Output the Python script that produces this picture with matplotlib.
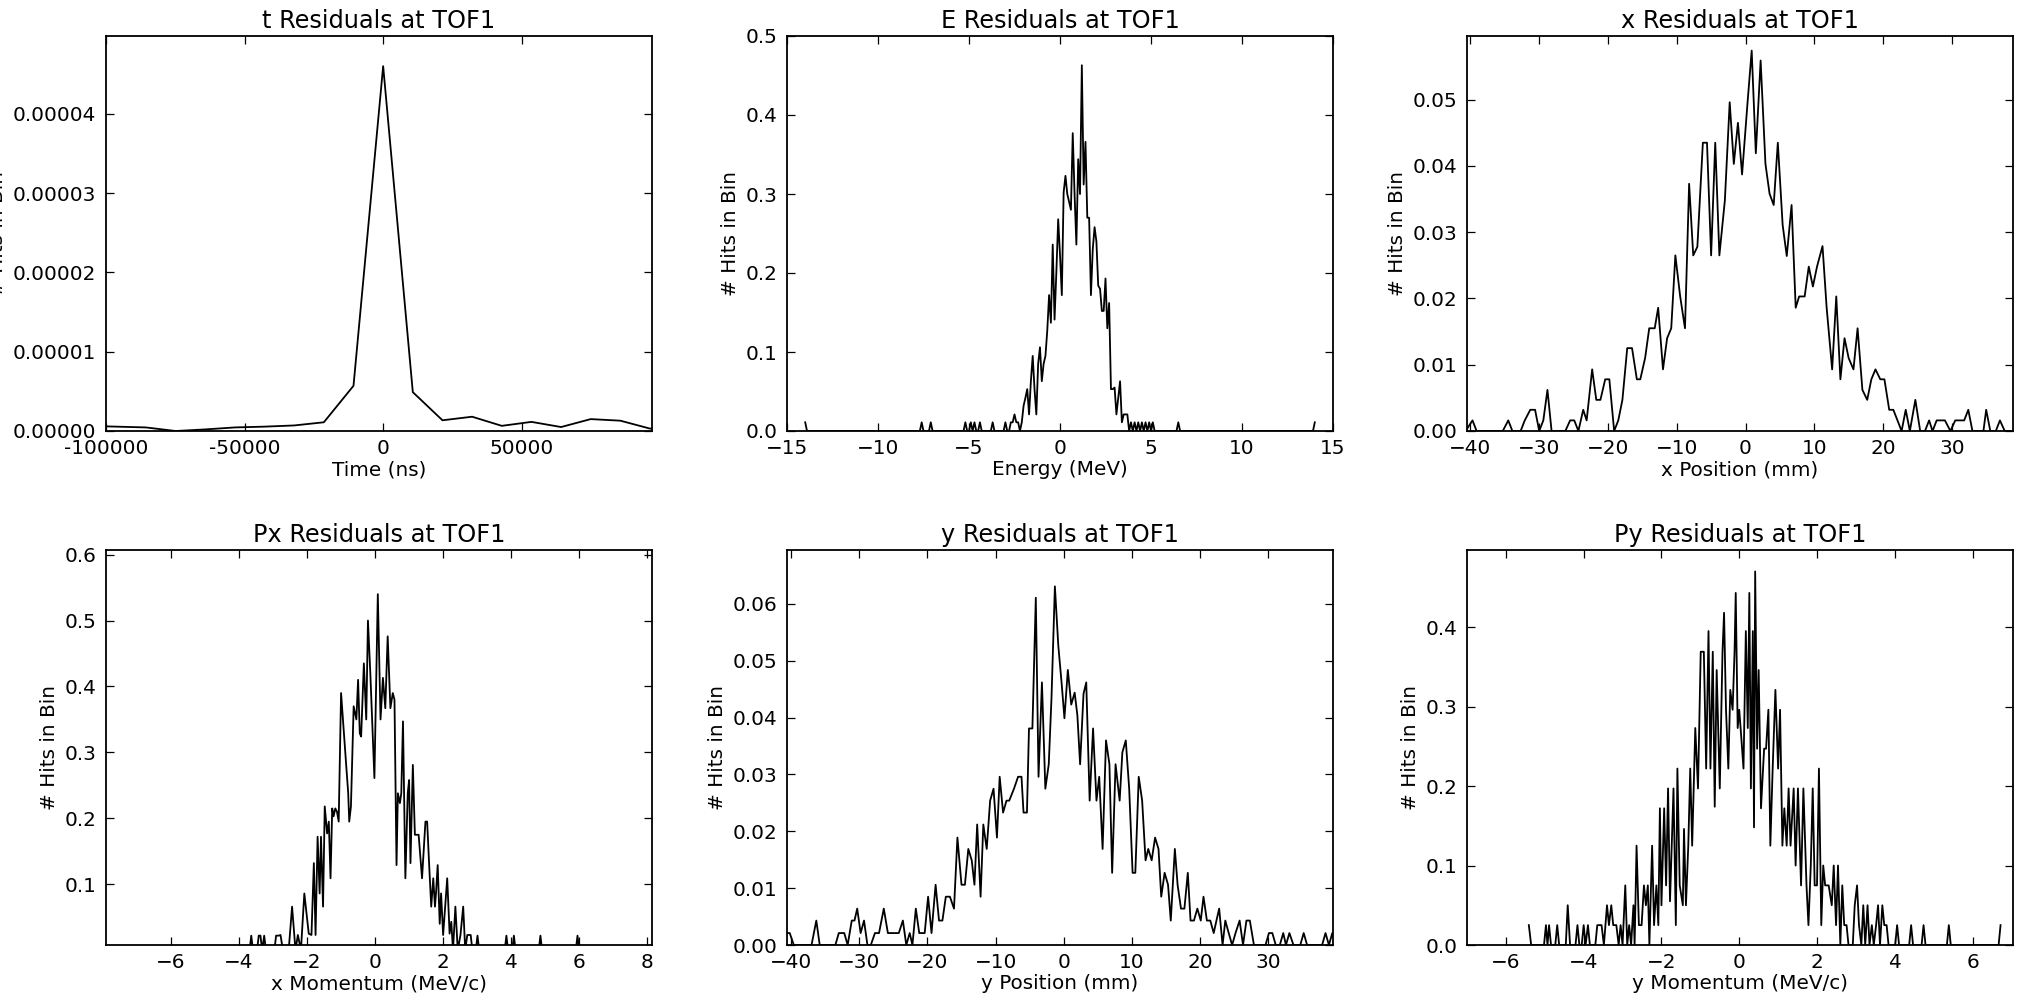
import numpy as np
import matplotlib
matplotlib.use("Agg")
import matplotlib.pyplot as plt
from matplotlib.ticker import FormatStrFormatter, MultipleLocator

# ---------------- data ----------------
# t residuals: histogram bins (ns)
t_start, t_step = -107000, 10700
t_vals = [0.65e-6, 0.55e-6, 0.45e-6, 0.0, 0.2e-6, 0.45e-6, 0.55e-6, 0.7e-6, 1.1e-6, 5.7e-6,
          4.6e-5, 4.9e-6, 1.35e-6, 1.8e-6, 0.65e-6, 1.15e-6, 0.5e-6, 1.5e-6, 1.3e-6, 0.3e-6, 0.6e-6]

# E residuals: bins of 0.1 MeV from -14 to 14; dense core + isolated single hits
E_lo, E_step, E_n = -14.0, 0.1, 281
E_core_start = -3.3
E_core = [0, 0, 0, 0.011, 0, 0, 0.011, 0.011, 0.021, 0.011,
          0.011, 0, 0.011, 0.032, 0.042, 0.053, 0.021, 0.063, 0.095, 0.053,
          0.021, 0.085, 0.106, 0.063, 0.085, 0.095, 0.127, 0.172, 0.137, 0.236,
          0.141, 0.201, 0.268, 0.223, 0.172, 0.302, 0.323, 0.300, 0.290, 0.280,
          0.377, 0.300, 0.236, 0.344, 0.300, 0.463, 0.312, 0.366, 0.270, 0.270,
          0.172, 0.230, 0.258, 0.240, 0.184, 0.180, 0.152, 0.152, 0.193, 0.130,
          0.162, 0.053, 0.053, 0.055, 0.021, 0.042, 0.063, 0.011, 0.021, 0.021,
          0.021, 0, 0.011, 0, 0.011, 0, 0.011]
E_spike_x = [-14.0, -7.6, -7.1, -5.2, -4.9, -4.7, -4.4, -3.7, 4.5, 4.7, 4.9, 5.1, 6.5, 14.0]
E_spike_y = [0.011] * 14

# x residuals (mm)
x_pos = [-40.7, -39.7, -39.1, -35.3, -34.5, -33.9, -32.7, -32.1, -31.3, -30.6,
         -30.0, -29.4, -28.8, -28.2, -26.2, -25.5, -24.9, -24.3, -23.6, -23.1,
         -22.3, -21.7, -21.1, -20.4, -19.8, -19.1, -18.5, -17.9, -17.2, -16.5,
         -15.8, -15.3, -14.6, -14.0, -13.2, -12.7, -12.0, -11.4, -10.8, -10.2,
         -9.5, -8.8, -8.2, -7.6, -7.0, -6.2, -5.6, -5.0, -4.4, -3.8,
         -3.0, -2.3, -1.7, -1.1, -0.5, 0.3, 0.9, 1.5, 2.2, 2.9,
         3.5, 4.1, 4.7, 5.4, 6.0, 6.7, 7.3, 7.8, 8.6, 9.2,
         9.8, 10.4, 11.2, 11.8, 12.6, 13.2, 13.8, 14.4, 15.0, 15.7,
         16.3, 17.0, 17.7, 18.3, 18.9, 19.6, 20.2, 20.9, 21.5, 22.1,
         22.7, 23.3, 23.9, 24.7, 25.4, 26.1, 26.7, 27.2, 27.8, 28.4,
         29.0, 29.8, 30.5, 31.1, 31.8, 32.4, 33.0, 34.6, 35.0, 35.6,
         36.4, 37.0, 37.7, 39.2]
x_hits = [0, 0.0016, 0, 0, 0.0016, 0, 0, 0.0016, 0.0032, 0.0032,
          0, 0.0016, 0.0062, 0, 0, 0.0016, 0.0016, 0, 0.0032, 0.0016,
          0.0093, 0.0047, 0.0047, 0.0078, 0.0078, 0, 0.0016, 0.0047, 0.0125, 0.0125,
          0.0078, 0.0078, 0.011, 0.0155, 0.0155, 0.0186, 0.0093, 0.014, 0.0155, 0.0265,
          0.0203, 0.0155, 0.0373, 0.0265, 0.0278, 0.0435, 0.0435, 0.0265, 0.0435, 0.0265,
          0.0348, 0.0496, 0.0403, 0.0465, 0.0387, 0.0496, 0.0574, 0.0419, 0.0559, 0.0403,
          0.0358, 0.0341, 0.0435, 0.0311, 0.0264, 0.0341, 0.0186, 0.0203, 0.0203, 0.0248,
          0.0218, 0.0248, 0.0279, 0.0186, 0.0093, 0.0203, 0.0078, 0.014, 0.011, 0.0093,
          0.0155, 0.0062, 0.0047, 0.0078, 0.0093, 0.0078, 0.0078, 0.0032, 0.0032, 0.0016,
          0, 0.0032, 0, 0.0047, 0, 0, 0.0016, 0, 0.0016, 0.0016,
          0.0016, 0, 0.0016, 0.0016, 0.0016, 0.0032, 0, 0, 0.0032, 0,
          0, 0.0016, 0, 0]

# Px residuals (MeV/c)
px_mom = [-7.9, -3.68, -3.63, -3.58, -3.46, -3.41, -3.36, -3.31, -3.25, -3.20,
          -2.95, -2.90, -2.82, -2.77, -2.70, -2.53, -2.43, -2.33, -2.26, -2.17,
          -2.07, -1.94, -1.86, -1.79, -1.74, -1.68, -1.62, -1.58, -1.52, -1.47,
          -1.40, -1.35, -1.30, -1.25, -1.21, -1.16, -1.11, -1.06, -0.99, -0.84,
          -0.78, -0.75, -0.70, -0.62, -0.54, -0.49, -0.44, -0.40, -0.32, -0.25,
          -0.20, -0.13, -0.01, 0.09, 0.17, 0.24, 0.31, 0.38, 0.46, 0.53,
          0.58, 0.64, 0.68, 0.74, 0.78, 0.83, 0.90, 0.97, 1.01, 1.05,
          1.12, 1.18, 1.29, 1.39, 1.49, 1.54, 1.60, 1.66, 1.72, 1.77,
          1.80, 1.85, 1.91, 1.95, 2.01, 2.13, 2.20, 2.25, 2.30, 2.37,
          2.44, 2.52, 2.60, 2.66, 2.72, 2.82, 2.87, 2.97, 3.02, 3.07,
          3.82, 3.87, 3.92, 4.04, 4.09, 4.14, 4.82, 4.87, 4.92, 5.91,
          5.96, 6.01, 8.15]
px_hits = [0, 0, 0.022, 0, 0, 0.022, 0.022, 0, 0.022, 0,
           0, 0.022, 0.022, 0.023, 0, 0, 0.066, 0, 0.023, 0,
           0.086, 0.025, 0.023, 0.132, 0.023, 0.172, 0.086, 0.172, 0.066, 0.218,
           0.177, 0.195, 0.109, 0.215, 0.203, 0.215, 0.210, 0.195, 0.39, 0.281,
           0.238, 0.195, 0.218, 0.37, 0.35, 0.41, 0.329, 0.324, 0.435, 0.35,
           0.50, 0.42, 0.261, 0.54, 0.35, 0.413, 0.367, 0.476, 0.367, 0.39,
           0.38, 0.129, 0.238, 0.223, 0.238, 0.347, 0.109, 0.238, 0.258, 0.132,
           0.281, 0.175, 0.175, 0.109, 0.195, 0.195, 0.129, 0.066, 0.109, 0.066,
           0.086, 0.129, 0.04, 0.086, 0.023, 0.109, 0.025, 0.043, 0, 0.066,
           0, 0.023, 0.066, 0, 0.023, 0.023, 0, 0, 0.022, 0,
           0, 0.022, 0, 0, 0.022, 0, 0, 0.022, 0, 0,
           0.022, 0, 0]

# y residuals (mm)
y_pos = [-40.7, -40.2, -39.6, -37.0, -36.3, -35.8, -33.5, -33.0, -32.2, -31.7,
         -31.1, -30.7, -30.3, -29.8, -29.3, -28.8, -28.3, -27.7, -27.1, -26.4,
         -25.8, -24.9, -24.2, -23.6, -23.1, -22.6, -22.2, -21.7, -21.2, -20.4,
         -19.9, -19.4, -18.8, -18.3, -17.8, -17.3, -16.7, -16.1, -15.6, -15.0,
         -14.5, -14.0, -13.5, -13.1, -12.7, -12.2, -11.8, -11.3, -10.8, -10.3,
         -9.8, -9.4, -8.9, -8.4, -8.0, -7.3, -6.7, -6.2, -5.9, -5.4,
         -5.1, -4.6, -4.1, -3.7, -3.2, -2.7, -2.2, -1.8, -1.3, -0.8,
         -0.3, 0.1, 0.6, 1.1, 1.6, 2.0, 2.4, 2.9, 3.3, 3.8,
         4.3, 4.8, 5.2, 5.7, 6.2, 6.7, 7.1, 7.6, 8.2, 8.6,
         9.1, 9.6, 10.1, 10.5, 11.0, 11.5, 12.0, 12.4, 12.9, 13.4,
         13.9, 14.3, 14.8, 15.3, 15.7, 16.3, 16.7, 17.2, 17.7, 18.2,
         18.6, 19.1, 19.6, 20.1, 20.5, 21.0, 21.5, 22.0, 22.4, 22.8,
         23.3, 23.7, 24.2, 24.7, 25.2, 25.8, 26.3, 26.8, 27.3, 27.9,
         29.6, 30.1, 30.6, 31.1, 31.7, 32.2, 32.6, 33.1, 33.7, 34.7,
         35.2, 35.7, 37.9, 38.4, 38.9, 39.4, 39.9]
y_hits = [0.0021, 0.0021, 0, 0, 0.0043, 0, 0, 0.0021, 0.0021, 0,
          0.0043, 0.0043, 0.0064, 0.0021, 0.0043, 0, 0, 0.0021, 0.0021, 0.0064,
          0.0021, 0.0021, 0.0021, 0.0043, 0, 0.0021, 0, 0.0064, 0.0021, 0.0021,
          0.0085, 0.0021, 0.0106, 0.0043, 0.0043, 0.0085, 0.0085, 0.0064, 0.0189, 0.0106,
          0.0106, 0.0169, 0.0149, 0.0106, 0.0212, 0.0085, 0.0212, 0.0169, 0.0254, 0.0275,
          0.0189, 0.0296, 0.0233, 0.0254, 0.0254, 0.0275, 0.0296, 0.0296, 0.0233, 0.0233,
          0.0381, 0.0381, 0.0611, 0.0296, 0.0462, 0.0275, 0.0318, 0.0434, 0.0631, 0.0527,
          0.0459, 0.0399, 0.0484, 0.0423, 0.0444, 0.0404, 0.0318, 0.0442, 0.0462, 0.0254,
          0.0381, 0.0254, 0.0296, 0.0169, 0.0360, 0.0318, 0.0127, 0.0318, 0.0254, 0.0339,
          0.0360, 0.0275, 0.0127, 0.0127, 0.0296, 0.0254, 0.0149, 0.0169, 0.0149, 0.0189,
          0.0169, 0.0085, 0.0127, 0.0106, 0.0043, 0.0169, 0.0106, 0.0064, 0.0064, 0.0127,
          0.0043, 0.0043, 0.0064, 0.0043, 0.0085, 0.0043, 0.0043, 0.0021, 0.0043, 0.0064,
          0, 0.0043, 0.0021, 0, 0.0021, 0.0043, 0, 0.0043, 0.0043, 0,
          0, 0.0021, 0.0021, 0, 0, 0.0021, 0, 0.0021, 0, 0,
          0.0021, 0, 0, 0.0021, 0, 0.0021, 0]

# Py residuals (MeV/c)
py_mom = [-5.41, -5.35, -5.02, -4.97, -4.93, -4.89, -4.84, -4.73, -4.68, -4.63,
          -4.46, -4.41, -4.35, -4.21, -4.16, -4.11, -4.05, -4.00, -3.95, -3.89,
          -3.84, -3.70, -3.65, -3.54, -3.48, -3.40, -3.35, -3.29, -3.24, -3.16,
          -3.10, -3.05, -3.00, -2.93, -2.88, -2.83, -2.78, -2.72, -2.69, -2.64,
          -2.58, -2.51, -2.45, -2.40, -2.35, -2.31, -2.24, -2.19, -2.13, -2.08,
          -2.04, -2.00, -1.93, -1.88, -1.83, -1.78, -1.69, -1.63, -1.59, -1.53,
          -1.45, -1.42, -1.37, -1.31, -1.26, -1.21, -1.13, -1.06, -0.99, -0.91,
          -0.85, -0.79, -0.74, -0.68, -0.63, -0.58, -0.50, -0.43, -0.39, -0.34,
          -0.28, -0.23, -0.17, -0.12, -0.09, -0.04, 0.00, 0.04, 0.11, 0.17,
          0.22, 0.26, 0.30, 0.35, 0.38, 0.41, 0.46, 0.50, 0.56, 0.64,
          0.69, 0.75, 0.80, 0.86, 0.93, 1.00, 1.05, 1.11, 1.16, 1.22,
          1.27, 1.32, 1.40, 1.45, 1.51, 1.59, 1.65, 1.73, 1.78, 1.84,
          1.89, 1.94, 2.00, 2.05, 2.11, 2.16, 2.21, 2.30, 2.38, 2.43,
          2.49, 2.54, 2.60, 2.65, 2.70, 2.76, 2.81, 2.92, 2.97, 3.03,
          3.08, 3.14, 3.19, 3.24, 3.30, 3.35, 3.41, 3.46, 3.52, 3.57,
          3.62, 3.68, 3.73, 3.79, 3.84, 4.01, 4.06, 4.11, 4.37, 4.42,
          4.47, 4.69, 4.74, 4.79, 5.34, 5.39, 5.44, 6.67, 6.72]
py_hits = [0.025, 0, 0, 0.025, 0, 0.025, 0, 0, 0.025, 0,
           0, 0.05, 0, 0, 0.025, 0, 0, 0.025, 0, 0.025,
           0, 0, 0.025, 0.025, 0, 0.05, 0.025, 0.05, 0.025, 0.025,
           0, 0.025, 0, 0.075, 0, 0.025, 0, 0.05, 0, 0.125,
           0.025, 0.025, 0.075, 0.05, 0.075, 0, 0.125, 0.025, 0.075, 0.025,
           0.172, 0.05, 0.172, 0.075, 0.197, 0.055, 0.197, 0.025, 0.222, 0.075,
           0.05, 0.146, 0.05, 0.125, 0.222, 0.125, 0.273, 0.197, 0.369, 0.369,
           0.222, 0.395, 0.222, 0.369, 0.174, 0.346, 0.197, 0.369, 0.418, 0.296,
           0.222, 0.321, 0.296, 0.369, 0.443, 0.273, 0.296, 0.27, 0.222, 0.395,
           0.273, 0.443, 0.197, 0.395, 0.148, 0.47, 0.247, 0.346, 0.172, 0.247,
           0.247, 0.296, 0.125, 0.222, 0.321, 0.222, 0.296, 0.125, 0.172, 0.125,
           0.197, 0.125, 0.197, 0.10, 0.197, 0.075, 0.197, 0.075, 0.025, 0.10,
           0.197, 0.075, 0.075, 0.222, 0.025, 0.10, 0.075, 0.075, 0.05, 0.10,
           0.025, 0.10, 0, 0.075, 0.025, 0.025, 0, 0, 0.05, 0.075,
           0.025, 0, 0.05, 0, 0.05, 0, 0.025, 0, 0.025, 0.05,
           0, 0.05, 0.025, 0.025, 0, 0, 0.025, 0, 0, 0.025,
           0, 0, 0.025, 0, 0, 0.025, 0, 0, 0.025]

titles = ["t Residuals at TOF1", "E Residuals at TOF1", "x Residuals at TOF1",
          "Px Residuals at TOF1", "y Residuals at TOF1", "Py Residuals at TOF1"]
xlabels = ["Time (ns)", "Energy (MeV)", "x Position (mm)",
           "x Momentum (MeV/c)", "y Position (mm)", "y Momentum (MeV/c)"]
ylabel = "# Hits in Bin"

# ---------------- build series ----------------
t_x = t_start + t_step * np.arange(len(t_vals))
E_x = E_lo + E_step * np.arange(E_n)
E_y = np.zeros(E_n)
i0 = int(round((E_core_start - E_lo) / E_step))
E_y[i0:i0 + len(E_core)] = E_core
for sx, sy in zip(E_spike_x, E_spike_y):
    E_y[int(round((sx - E_lo) / E_step))] = sy

series = [(t_x, t_vals), (E_x, E_y), (x_pos, x_hits),
          (px_mom, px_hits), (y_pos, y_hits), (py_mom, py_hits)]
xlims = [(-100000, 97000), (-15, 15), (-40.5, 38.9), (-7.9, 8.15), (-40.6, 39.5), (-7.0, 7.04)]
ylims = [(0, 4.98e-5), (0, 0.5), (0, 0.0596), (0.0078, 0.607), (0, 0.0695), (0, 0.497)]
xstep = [50000, 5, 10, 2, 10, 2]
ystep = [1e-5, 0.1, 0.01, 0.1, 0.01, 0.1]
yfmt = ["%.5f", "%.1f", "%.2f", "%.1f", "%.2f", "%.1f"]

# ---------------- style ----------------
plt.rcParams.update({
    "font.family": "DejaVu Sans",
    "font.size": 14.4,
    "axes.linewidth": 1.3,
    "axes.edgecolor": "black",
    "xtick.direction": "in", "ytick.direction": "in",
    "xtick.top": True, "ytick.right": True,
    "xtick.major.size": 5.5, "ytick.major.size": 5.5,
    "xtick.major.width": 0.9, "ytick.major.width": 0.9,
    "xtick.major.pad": 5.5, "ytick.major.pad": 7,
    "xtick.labelsize": 14.4, "ytick.labelsize": 14.4,
    "axes.labelsize": 14.4, "axes.titlesize": 17.3,
    "axes.unicode_minus": True,
})

W, H = 2031, 997
fig = plt.figure(figsize=(W / 100, H / 100), dpi=100, facecolor="white")
lefts = [106, 787, 1467]
tops = [36, 550]
aw, ah = 546, 395

for k in range(6):
    r, c = divmod(k, 3)
    rect = [lefts[c] / W, 1 - (tops[r] + ah) / H, aw / W, ah / H]
    ax = fig.add_axes(rect)
    xs, ys = series[k]
    ax.plot(xs, ys, color="black", linewidth=1.3)
    ax.set_xlim(*xlims[k])
    ax.set_ylim(*ylims[k])
    ax.xaxis.set_major_locator(MultipleLocator(xstep[k]))
    ax.yaxis.set_major_locator(MultipleLocator(ystep[k]))
    ax.yaxis.set_major_formatter(FormatStrFormatter(yfmt[k]))
    if k == 0:
        ax.xaxis.set_major_formatter(FormatStrFormatter("%d"))
    ax.set_title(titles[k])
    ax.set_xlabel(xlabels[k], labelpad=2)
    ax.set_ylabel(ylabel)

fig.savefig("out.png", dpi=100, facecolor="white")
